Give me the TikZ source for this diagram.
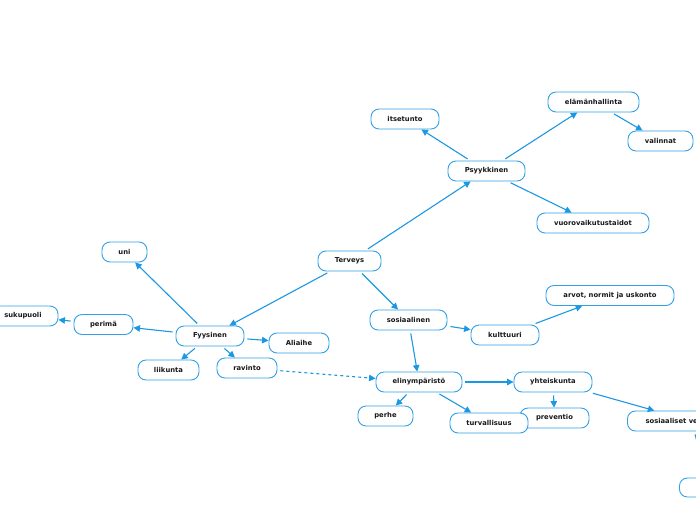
\documentclass[tikz,border=0pt]{standalone}
\usepackage{fontspec}
\setmainfont{DejaVu Sans}
\usetikzlibrary{arrows.meta}
\definecolor{edgeblue}{RGB}{28,152,226}
\definecolor{boxblue}{RGB}{50,160,230}
\definecolor{txt}{RGB}{25,25,25}
\tikzset{
  box/.style={draw=boxblue, line width=0.9pt, fill=white, rounded corners=8pt,
    minimum height=20pt, inner sep=0pt, text=txt,
    font=\fontsize{6.8}{8}\selectfont\bfseries},
  conn/.style={draw=edgeblue, line width=1.1pt, -{Triangle[length=6.5pt,width=6.5pt]},
    shorten <=3pt},
  dconn/.style={conn, dash pattern=on 3pt off 3pt}
}
\begin{document}
\begin{tikzpicture}[x=1pt,y=-1pt]
\useasboundingbox (0,0) rectangle (696,520);
\clip (0,0) rectangle (696,520);
% nodes
\node[box, minimum width=63pt] (terveys) at (349.5,261) {Terveys};
\node[box, minimum width=77pt] (psyk) at (486.5,171) {Psyykkinen};
\node[box, minimum width=68pt] (itse) at (405,119) {itsetunto};
\node[box, minimum width=91pt] (elam) at (593.5,102) {elämänhallinta};
\node[box, minimum width=65pt] (valin) at (660.5,141) {valinnat};
\node[box, minimum width=112pt] (vuoro) at (593,223) {vuorovaikutustaidot};
\node[box, minimum width=45pt] (uni) at (124.5,252) {uni};
\node[box, minimum width=70pt] (suku) at (23,316) {sukupuoli};
\node[box, minimum width=59pt] (perima) at (103.5,324.5) {perimä};
\node[box, minimum width=68pt] (fyys) at (210,336) {Fyysinen};
\node[box, minimum width=60pt] (allaihe) at (299,343) {Aliaihe};
\node[box, minimum width=61pt] (liik) at (168.5,370) {liikunta};
\node[box, minimum width=60pt] (ravinto) at (247,368) {ravinto};
\node[box, minimum width=77pt] (sos) at (408.5,320) {sosiaalinen};
\node[box, minimum width=68pt] (kult) at (505,335) {kulttuuri};
\node[box, minimum width=128pt] (arvot) at (610,295.5) {arvot, normit ja uskonto};
\node[box, minimum width=86pt] (elin) at (419,382) {elinympäristö};
\node[box, minimum width=78pt] (yht) at (553,382) {yhteiskunta};
\node[box, minimum width=55pt] (perhe) at (385.5,416) {perhe};
\node[box, minimum width=69pt] (prev) at (554.5,418) {preventio};
\node[box, minimum width=78pt] (turva) at (489,423) {turvallisuus};
\node[box, minimum width=128pt, anchor=west] (sosver) at (627,421) {\hspace*{-12pt}sosiaaliset verkostot};
\node[box, minimum width=60pt, minimum height=19pt, anchor=west] (alas) at (679,487.5) {};
% connectors
\draw[conn] (terveys) -- (psyk);
\draw[conn] (psyk) -- (itse);
\draw[conn] (psyk) -- (elam);
\draw[conn] (elam) -- (valin);
\draw[conn] (psyk) -- (vuoro);
\draw[conn] (terveys) -- (fyys);
\draw[conn] (fyys) -- (uni);
\draw[conn] (fyys) -- (perima);
\draw[conn] (perima) -- (suku);
\draw[conn] (fyys) -- (allaihe);
\draw[conn] (fyys) -- (liik);
\draw[conn] (fyys) -- (ravinto);
\draw[dconn] (ravinto) -- (elin);
\draw[conn] (terveys) -- (sos);
\draw[conn] (sos) -- (kult);
\draw[conn] (kult) -- (arvot);
\draw[conn] (sos) -- (elin);
\draw[conn] (elin) -- (yht);
\draw[conn] (elin) -- (perhe);
\draw[conn] (elin) -- (turva);
\draw[conn] (yht) -- (prev);
\draw[conn] (yht) -- (sosver);
\draw[conn] (sosver) -- (alas);
\end{tikzpicture}
\end{document}
